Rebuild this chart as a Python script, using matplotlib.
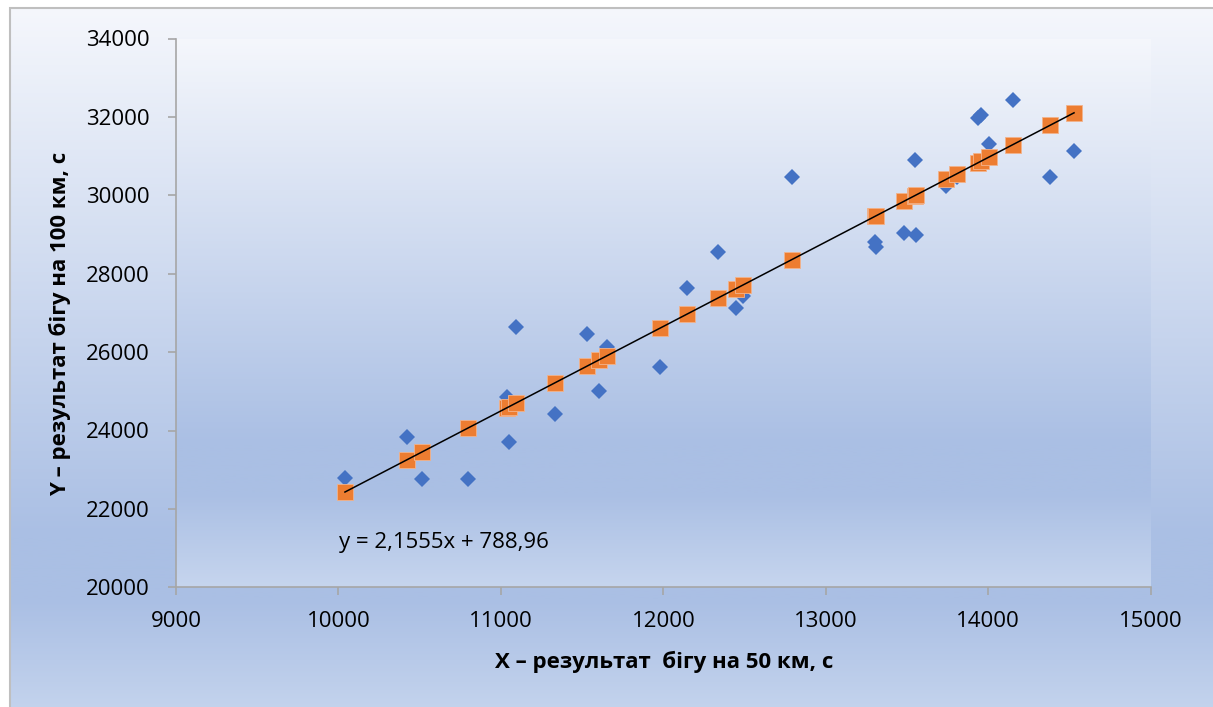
import numpy as np
import matplotlib.pyplot as plt
from matplotlib.colors import to_rgb
from matplotlib.patches import Rectangle

# --- data ---
X_50KM = [10040, 10422, 10514, 10797, 11037, 11050, 11093, 11333, 11530, 11604,
          11653, 11979, 12146, 12337, 12447, 12490, 12792, 13303, 13310, 13481,
          13549, 13555, 13740, 13808, 13938, 13955, 14005, 14152, 14380, 14528]
Y_ACTUAL = [22790, 23840, 22760, 22760, 24860, 23700, 26630, 24430, 26450, 25010,
            26130, 25630, 27640, 28560, 27130, 27420, 30470, 28820, 28670, 29050,
            30890, 29000, 30230, 30460, 31980, 32060, 31300, 32430, 30470, 31130]
Y_PREDICTED = [22430, 23250, 23450, 24060, 24580, 24610, 24700, 25220, 25640, 25800,
               25910, 26610, 26970, 27380, 27620, 27710, 28360, 29460, 29480, 29850,
               29990, 30010, 30410, 30550, 30830, 30870, 30980, 31290, 31790, 32100]
SLOPE, INTERCEPT = 2.1555, 788.96
EQ_TEXT = "y = 2,1555x + 788,96"

X_TICKS = [9000, 10000, 11000, 12000, 13000, 14000, 15000]
Y_TICKS = [20000, 22000, 24000, 26000, 28000, 30000, 32000, 34000]

# --- style ---
C_BLUE, C_ORANGE = "#4472C4", "#ED7D31"
C_AXIS = "#A6A6A6"
GRAD_STOPS = [0.0, 0.74, 0.83, 1.0]
GRAD_COLS = ["#F5F7FC", "#AABFE4", "#AABFE4", "#C6D5EE"]
FS = 16

plt.rcParams["font.family"] = ["Open Sans", "DejaVu Sans"]
plt.rcParams["font.size"] = FS


def gradient(n=512):
    t = np.linspace(0, 1, n)
    rgb = np.array([to_rgb(c) for c in GRAD_COLS])
    img = np.stack([np.interp(t, GRAD_STOPS, rgb[:, k]) for k in range(3)], axis=-1)
    return img[:, None, :]


W, H = 1213, 707
fig = plt.figure(figsize=(W / 100, H / 100), dpi=100)
fig.patch.set_facecolor("white")

# chart area background (frame starts at x=10, y=8 px)
bg = fig.add_axes([10 / W, 0, 1 - 10 / W, 1 - 8 / H], zorder=-10)
bg.imshow(gradient(), aspect="auto", extent=(0, 1, 1.02, 0))
bg.set_xlim(0, 1)
bg.set_ylim(1, 0)
bg.axis("off")
fig.add_artist(Rectangle((10 / W, -0.01), 1.0, 1 - 8 / H + 0.01, transform=fig.transFigure,
                         fill=False, edgecolor="#BFBFBF", linewidth=1.5))

ax = fig.add_axes([176 / W, 1 - 587.3 / H, (1150.7 - 176) / W, (587.3 - 38.5) / H])
ax.imshow(gradient(), aspect="auto", extent=(0, 1, 0, 1), transform=ax.transAxes, zorder=0)

ax.plot(X_50KM, Y_ACTUAL, linestyle="none", marker="D", markersize=8.6,
        color=C_BLUE, markeredgewidth=0, zorder=3)
ax.plot(X_50KM, Y_PREDICTED, linestyle="none", marker="s", markersize=12,
        color=C_ORANGE, markeredgecolor="#F2B38C", markeredgewidth=0.6, zorder=4)

# linear trendline over the data range
xl = np.array([min(X_50KM), max(X_50KM)])
ax.plot(xl, SLOPE * xl + INTERCEPT, color="black", linewidth=1.1, zorder=5)

ax.text(10650, 21150, EQ_TEXT, ha="center", va="center", fontsize=FS, zorder=6)

ax.set_xlim(9000, 15000)
ax.set_ylim(20000, 34000)
ax.set_xticks(X_TICKS)
ax.set_yticks(Y_TICKS)
for s in ("top", "right"):
    ax.spines[s].set_visible(False)
for s in ("left", "bottom"):
    ax.spines[s].set_color(C_AXIS)
    ax.spines[s].set_linewidth(1.2)
ax.tick_params(axis="both", direction="out", length=6, width=1.2, color=C_AXIS,
               labelsize=FS, labelcolor="black")
ax.tick_params(axis="y", pad=13)
ax.tick_params(axis="x", pad=11)
ax.grid(False)

fig.text(664 / W, 1 - 662 / H, "X – результат  бігу на 50 км, с", ha="center", va="center",
         fontsize=FS, fontweight="bold")
fig.text(60 / W, 1 - 324 / H, "Y – результат бігу на 100 км, с", ha="center", va="center",
         fontsize=FS, fontweight="bold", rotation=90)

fig.savefig("out.png", dpi=100)
